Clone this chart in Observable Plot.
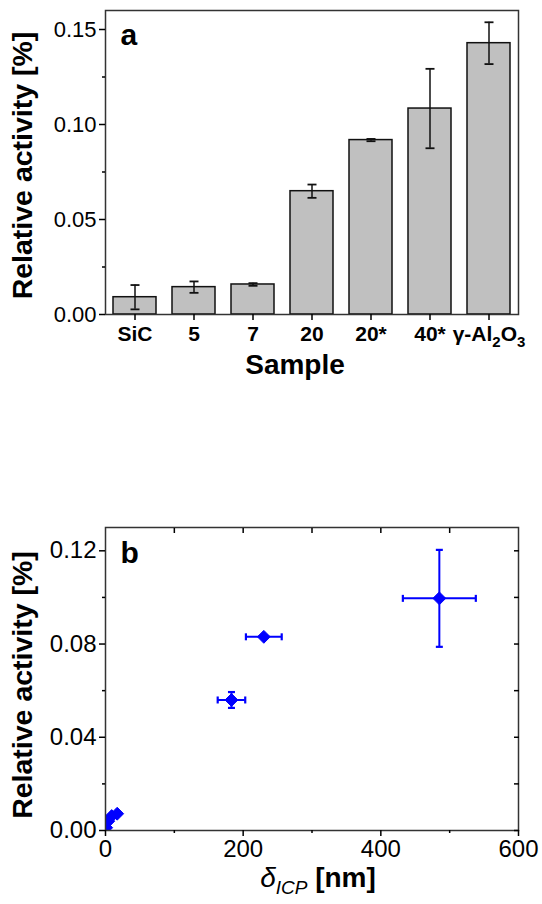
<!DOCTYPE html>
<html><head><meta charset="utf-8">
<script src="https://cdn.jsdelivr.net/npm/d3@7"></script>
<script src="https://cdn.jsdelivr.net/npm/@observablehq/plot@0.6"></script>
<style>
body{margin:0;background:#fff;}
#wrap{width:542px;height:904px;font-family:"Liberation Sans",Arial,sans-serif;}
svg{display:block;}
</style></head><body><div id="wrap"></div>
<script>
// ---- Panel a data ----
const samples = ["SiC", "5", "7", "20", "20*", "40*", "γ-Al2O3"];
const activity = [0.0091, 0.0144, 0.0158, 0.0649, 0.0918, 0.1084, 0.1428];
const activityErr = [0.0064, 0.0030, 0.0007, 0.0035, 0.0006, 0.0209, 0.0110];
const yTicksA = [0, 0.05, 0.10, 0.15];
const yMinorA = [0.025, 0.075, 0.125];

// ---- Panel b data ----
const deltaICP = [485, 230, 183, 17, 9, 4, 1];
const deltaErr = [53, 26, 20, 0, 0, 0, 0];
const activityB = [0.0996, 0.0831, 0.0560, 0.0072, 0.0062, 0.0040, 0.0012];
const activityBErr = [0.0208, 0.0005, 0.0034, 0, 0, 0, 0];
const yTicksB = [0, 0.04, 0.08, 0.12];
const yMinorB = [0.02, 0.06, 0.10];
const yAllB = [0, 0.02, 0.04, 0.06, 0.08, 0.10, 0.12];
const xTicksB = [0, 200, 400, 600];
const xMinorB = [100, 300, 500];
const xTopB = [100, 200, 300, 400, 500];

const FONT = "Liberation Sans, Arial, sans-serif";
const capH = {draw(ctx, size){const w = Math.sqrt(size/Math.PI); ctx.moveTo(-w,0); ctx.lineTo(w,0);}};
const capV = {draw(ctx, size){const w = Math.sqrt(size/Math.PI); ctx.moveTo(0,-w); ctx.lineTo(0,w);}};

const dataA = samples.map((s,i)=>({s, v:activity[i], lo:activity[i]-activityErr[i], hi:activity[i]+activityErr[i]}));

const chartA = Plot.plot({
  width:542, height:390, marginLeft:105, marginRight:24, marginTop:10, marginBottom:76,
  style:{fontFamily:FONT, background:"white", color:"black", overflow:"visible"},
  x:{domain:samples, paddingInner:0.27, paddingOuter:0.135},
  y:{domain:[0,0.16]},
  marks:[
    Plot.barY(dataA,{x:"s", y:"v", fill:"#c0c0c0", stroke:"#111", strokeWidth:1.5}),
    Plot.ruleX(dataA,{x:"s", y1:"lo", y2:"hi", stroke:"#111", strokeWidth:1.5}),
    Plot.dot(dataA,{x:"s", y:"lo", symbol:capH, r:4.5, stroke:"#111", strokeWidth:1.8, fill:"none"}),
    Plot.dot(dataA,{x:"s", y:"hi", symbol:capH, r:4.5, stroke:"#111", strokeWidth:1.8, fill:"none"}),
    Plot.frame({stroke:"#333", strokeWidth:1.5}),
    Plot.axisY({ticks:yTicksA, tickFormat:d3.format(".2f"), tickSize:6, tickPadding:3, fontSize:22, strokeWidth:1.5, label:null}),
    Plot.axisY({ticks:yMinorA, tickFormat:()=>"", tickSize:3, strokeWidth:1.5, label:null}),
    Plot.axisX({tickSize:6, tickPadding:6, fontSize:21, fontWeight:"bold", strokeWidth:1.5, label:null}),
    Plot.text(["Relative activity [%]"], {frameAnchor:"left", textAnchor:"middle", rotate:-90, dx:-83, dy:3, fontSize:28.5, fontWeight:"bold"}),
    Plot.text(["Sample"], {frameAnchor:"bottom", lineAnchor:"top", dx:-17, dy:40, fontSize:28, fontWeight:"bold"}),
    Plot.text(["a"], {frameAnchor:"top-left", textAnchor:"start", lineAnchor:"top", dx:15, dy:13, fontSize:30, fontWeight:"bold"})
  ]
});

const dataB = deltaICP.map((d,i)=>({x:d, y:activityB[i], xe:deltaErr[i], ye:activityBErr[i]}));
const xErrB = dataB.filter(d=>d.xe>0).map(d=>({y:d.y, x1:d.x-d.xe, x2:d.x+d.xe}));
const yErrB = dataB.filter(d=>d.ye>0).map(d=>({x:d.x, y1:d.y-d.ye, y2:d.y+d.ye}));
const BLUE = "#0000ff";

const chartB = Plot.plot({
  width:542, height:514, marginLeft:105, marginRight:24, marginTop:137, marginBottom:74,
  style:{fontFamily:FONT, background:"white", color:"black", overflow:"visible"},
  x:{domain:[0,600]},
  y:{domain:[0,0.13]},
  marks:[
    Plot.ruleY(xErrB,{y:"y", x1:"x1", x2:"x2", stroke:BLUE, strokeWidth:2}),
    Plot.dot(xErrB,{x:"x1", y:"y", symbol:capV, r:3.5, stroke:BLUE, strokeWidth:2.2, fill:"none"}),
    Plot.dot(xErrB,{x:"x2", y:"y", symbol:capV, r:3.5, stroke:BLUE, strokeWidth:2.2, fill:"none"}),
    Plot.ruleX(yErrB,{x:"x", y1:"y1", y2:"y2", stroke:BLUE, strokeWidth:2}),
    Plot.dot(yErrB,{x:"x", y:"y1", symbol:capH, r:3.5, stroke:BLUE, strokeWidth:2.2, fill:"none"}),
    Plot.dot(yErrB,{x:"x", y:"y2", symbol:capH, r:3.5, stroke:BLUE, strokeWidth:2.2, fill:"none"}),
    Plot.dot(dataB,{x:"x", y:"y", symbol:"diamond2", r:5.8, fill:BLUE, stroke:BLUE, strokeWidth:1, clip:true}),
    Plot.frame({stroke:"#333", strokeWidth:1.5}),
    Plot.axisY({ticks:yTicksB, tickFormat:d3.format(".2f"), tickSize:6, tickPadding:3, fontSize:24, strokeWidth:1.5, label:null}),
    Plot.axisY({ticks:yMinorB, tickFormat:()=>"", tickSize:3, strokeWidth:1.5, label:null}),
    Plot.axisY({anchor:"right", ticks:yAllB, tickFormat:()=>"", tickSize:-5, strokeWidth:1.5, label:null}),
    Plot.axisX({ticks:xTicksB, tickFormat:d3.format("d"), tickSize:6, tickPadding:3, fontSize:24, strokeWidth:1.5, label:null}),
    Plot.axisX({ticks:xMinorB, tickFormat:()=>"", tickSize:3, strokeWidth:1.5, label:null}),
    Plot.axisX({anchor:"top", ticks:xTopB, tickFormat:()=>"", tickSize:-5, strokeWidth:1.5, label:null}),
    Plot.text(["Relative activity [%]"], {frameAnchor:"left", textAnchor:"middle", rotate:-90, dx:-83, dy:6, fontSize:28.5, fontWeight:"bold"}),
    Plot.text(["δICP [nm]"], {frameAnchor:"bottom", lineAnchor:"top", dx:6, dy:37, fontSize:28, fontWeight:"bold"}),
    Plot.text(["b"], {frameAnchor:"top-left", textAnchor:"start", lineAnchor:"top", dx:15, dy:14, fontSize:30, fontWeight:"bold"})
  ]
});

const wrap = document.getElementById("wrap");
wrap.appendChild(chartA);
wrap.appendChild(chartB);

// --- subscripts / italics as real text ---
const NS = "http://www.w3.org/2000/svg";
function rebuild(textEl, parts){
  while (textEl.firstChild) textEl.removeChild(textEl.firstChild);
  for (const p of parts){
    const ts = document.createElementNS(NS,"tspan");
    ts.textContent = p.t;
    if (p.dy) ts.setAttribute("dy", p.dy);
    if (p.size) ts.setAttribute("font-size", p.size);
    if (p.style) ts.setAttribute("font-style", p.style);
    if (p.weight) ts.setAttribute("font-weight", p.weight);
    textEl.appendChild(ts);
  }
}
chartA.querySelectorAll("text").forEach(t=>{
  if (t.textContent === "γ-Al2O3" && t.children.length === 0){
    rebuild(t,[{t:"γ-Al"},{t:"2",dy:"6",size:"15"},{t:"O",dy:"-6"},{t:"3",dy:"6",size:"15"}]);
  }
});
chartB.querySelectorAll("text").forEach(t=>{
  if (t.textContent === "δICP [nm]" && t.children.length === 0){
    rebuild(t,[{t:"δ",style:"italic",weight:"normal"},{t:"ICP",dy:"7",size:"19",style:"italic",weight:"normal"},{t:" [nm]",dy:"-7"}]);
  }
});
</script></body></html>
